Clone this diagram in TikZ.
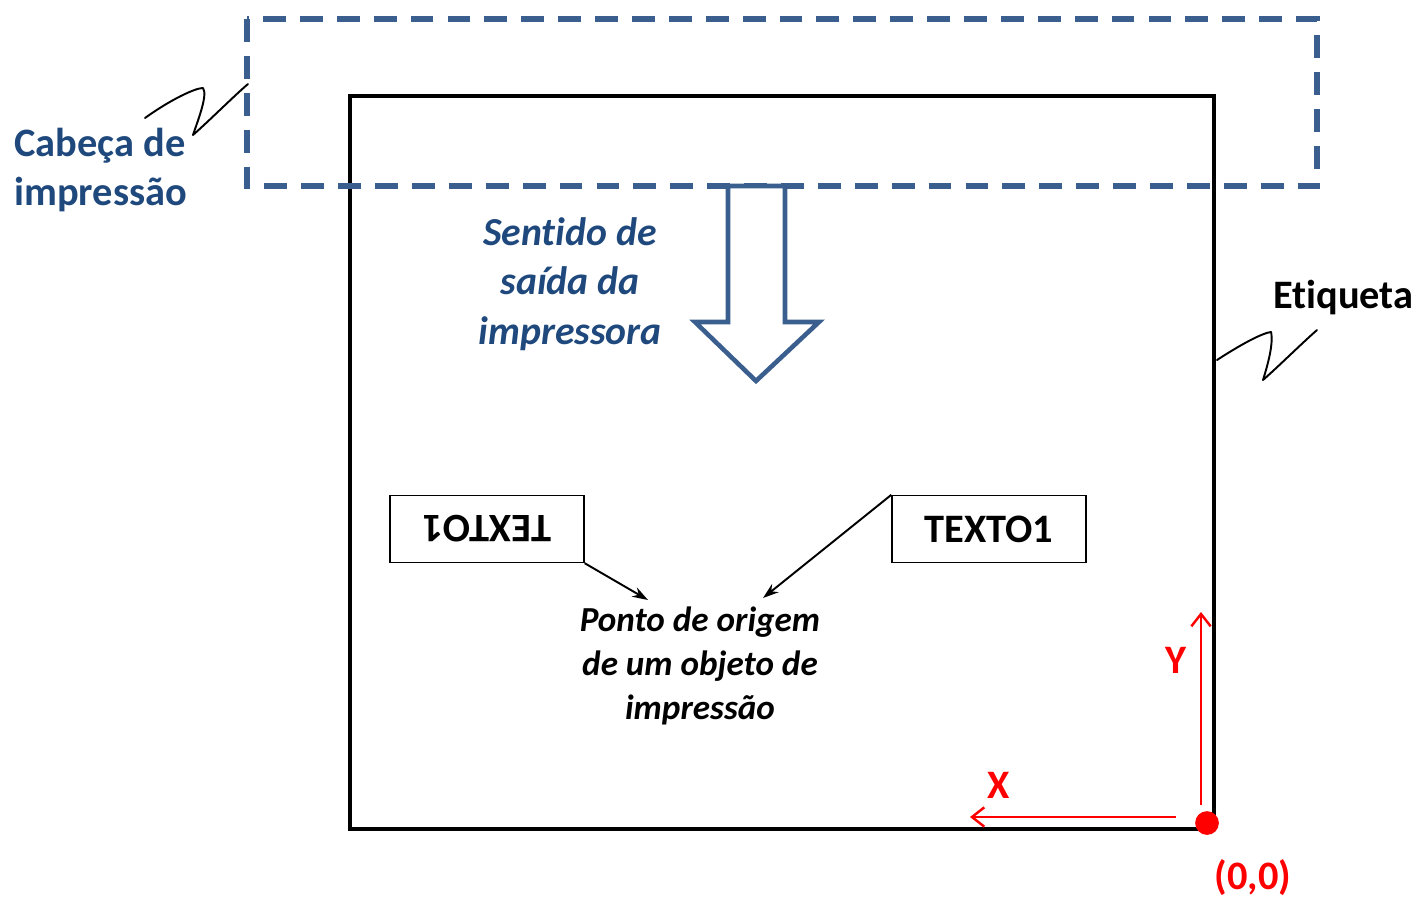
\documentclass[tikz,border=0pt]{standalone}
\usepackage{fontspec}
\setmainfont{Carlito}[RawFeature={-liga}]
\usetikzlibrary{arrows.meta}
\definecolor{azultexto}{HTML}{1F497D}
\definecolor{azullinha}{HTML}{3A5F8E}
\begin{document}
\begin{tikzpicture}[x=0.02cm, y=-0.02cm,
		rotulo/.style={inner sep=0pt, align=center, font=\bfseries\fontsize{23}{28}\selectfont},
		caixa/.style={draw, line width=0.8pt, inner sep=0pt, minimum width=3.88cm, minimum height=1.34cm, font=\bfseries\fontsize{23}{28}\selectfont},
		eixo/.style={red, line width=1.4pt, -{Straight Barb[length=7pt, width=11pt]}},
		seta/.style={line width=1.1pt, -{Stealth[length=9pt, width=6pt]}},
		rabisco/.style={line width=1.1pt, line cap=round, line join=round}]
	\useasboundingbox (0,0) rectangle (1419,900);

	\draw[line width=2.3pt] (350,96) rectangle (1214,829);
	\draw[azullinha, line width=3pt, dash pattern=on 13pt off 8pt] (247,19) rectangle (1317,186);
	\draw[azullinha, line width=2.6pt, fill=white] (728,186) -- (728,322) -- (695,322) -- (756,381) -- (819,322) -- (785,322) -- (785,186) -- cycle;

	\node[rotulo, azultexto, align=left, anchor=west] (cabeca) at (14,170) {Cabeça de\\impressão};
	\node[rotulo, azultexto, font=\bfseries\itshape\fontsize{22.6}{28}\selectfont] (sentido) at (570,284) {Sentido de\\saída da\\impressora};
	\node[rotulo, anchor=west] (etiqueta) at (1273,297) {Etiqueta};

	\draw[rabisco] (145,118) .. controls (170,100) and (195,88) .. (203,88) .. controls (208,95) and (198,120) .. (193,135) .. controls (210,120) and (235,95) .. (248,84);
	\draw[rabisco] (1217,360) .. controls (1240,345) and (1262,333) .. (1271,332) .. controls (1274,345) and (1266,370) .. (1263,380) .. controls (1280,365) and (1300,345) .. (1317,330);

	\node[caixa] (textoinv) at (487,529) {\rotatebox{180}{TEXTO1}};
	\node[caixa] (texto) at (989,529) {TEXTO1};
	\node[rotulo, font=\bfseries\itshape\fontsize{20}{25}\selectfont] (ponto) at (700,666) {Ponto de origem\\de um objeto de\\impressão};
	\coordinate (alvoesq) at (648,600);
	\coordinate (alvodir) at (763,598);
	\draw[seta] (textoinv.south east) -- (alvoesq);
	\draw[seta] (texto.north west) -- (alvodir);

	\node[circle, fill=red, inner sep=0pt, minimum size=13.5pt] (origem) at (1207,823) {};
	\coordinate (ybase) at (1201,805);
	\coordinate (ytopo) at (1201,612);
	\coordinate (xbase) at (1176,817);
	\coordinate (xfim) at (970,817);
	\draw[eixo] (ybase) -- (ytopo);
	\draw[eixo] (xbase) -- (xfim);
	\node[rotulo, red] (yrot) at (1176,660) {Y};
	\node[rotulo, red] (xrot) at (999,785) {X};
	\node[rotulo, red] (origemrot) at (1253,878) {(0,0)};
\end{tikzpicture}
\end{document}
